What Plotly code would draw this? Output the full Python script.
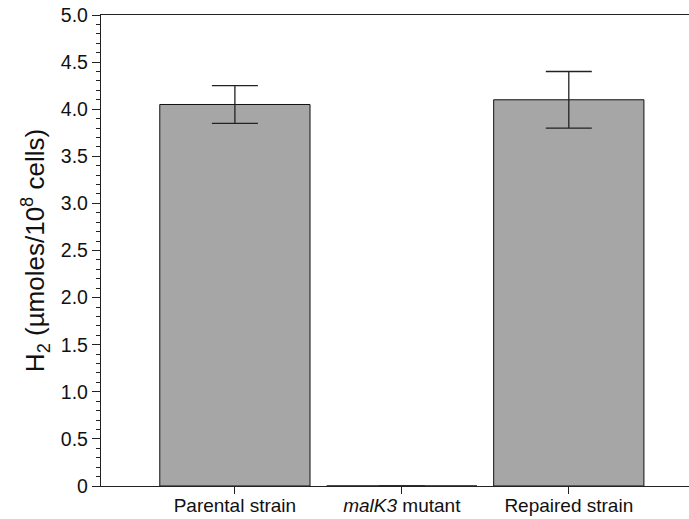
import plotly.graph_objects as go

categories = ["Parental strain", "<i>malK3</i> mutant", "Repaired strain"]
values = [4.05, 0.0, 4.1]
errors = [0.2, 0.0, 0.3]
ytick_vals = [0, 0.5, 1.0, 1.5, 2.0, 2.5, 3.0, 3.5, 4.0, 4.5, 5.0]
ytick_text = ["0", "0.5", "1.0", "1.5", "2.0", "2.5", "3.0", "3.5", "4.0", "4.5", "5.0"]

font = "Liberation Sans, Arial, Helvetica, sans-serif"
axcol = "#222222"

fig = go.Figure()
fig.add_trace(go.Bar(
    x=list(range(len(categories))),
    y=values,
    width=0.9,
    marker=dict(color="#a6a6a6", line=dict(color="#111111", width=1)),
    error_y=dict(type="data", array=errors, visible=True, color="#222222",
                 thickness=1.3, width=23),
))

fig.update_layout(
    width=689, height=519,
    margin=dict(l=101, r=0, t=15, b=33, autoexpand=False),
    plot_bgcolor="white", paper_bgcolor="white",
    showlegend=False,
    font=dict(family=font, size=19.5, color="#111111"),
    xaxis=dict(
        range=[-0.802, 2.72],
        tickvals=list(range(len(categories))),
        ticktext=categories,
        showline=True, linecolor=axcol, linewidth=1.3,
        mirror=True, automargin=False,
        ticks="outside", ticklen=7, tickcolor=axcol, tickwidth=1.3,
        ticklabelstandoff=-5,
        showgrid=False, zeroline=False,
        tickfont=dict(size=19),
    ),
    yaxis=dict(
        range=[0, 5.0],
        tickvals=ytick_vals,
        ticktext=ytick_text,
        showline=True, linecolor=axcol, linewidth=1.3,
        ticks="outside", ticklen=8, tickcolor=axcol, tickwidth=1.3,
        minor=dict(dtick=0.1, tick0=0, ticks="outside", ticklen=4,
                   tickcolor=axcol, tickwidth=1.2, showgrid=False),
        showgrid=False, zeroline=False, automargin=False,
        tickfont=dict(size=19.5),
        title=dict(text="H<sub>2</sub> (µmoles/10<sup>8</sup> cells)",
                   font=dict(size=26), standoff=8),
    ),
)

fig.write_html("out.html")
